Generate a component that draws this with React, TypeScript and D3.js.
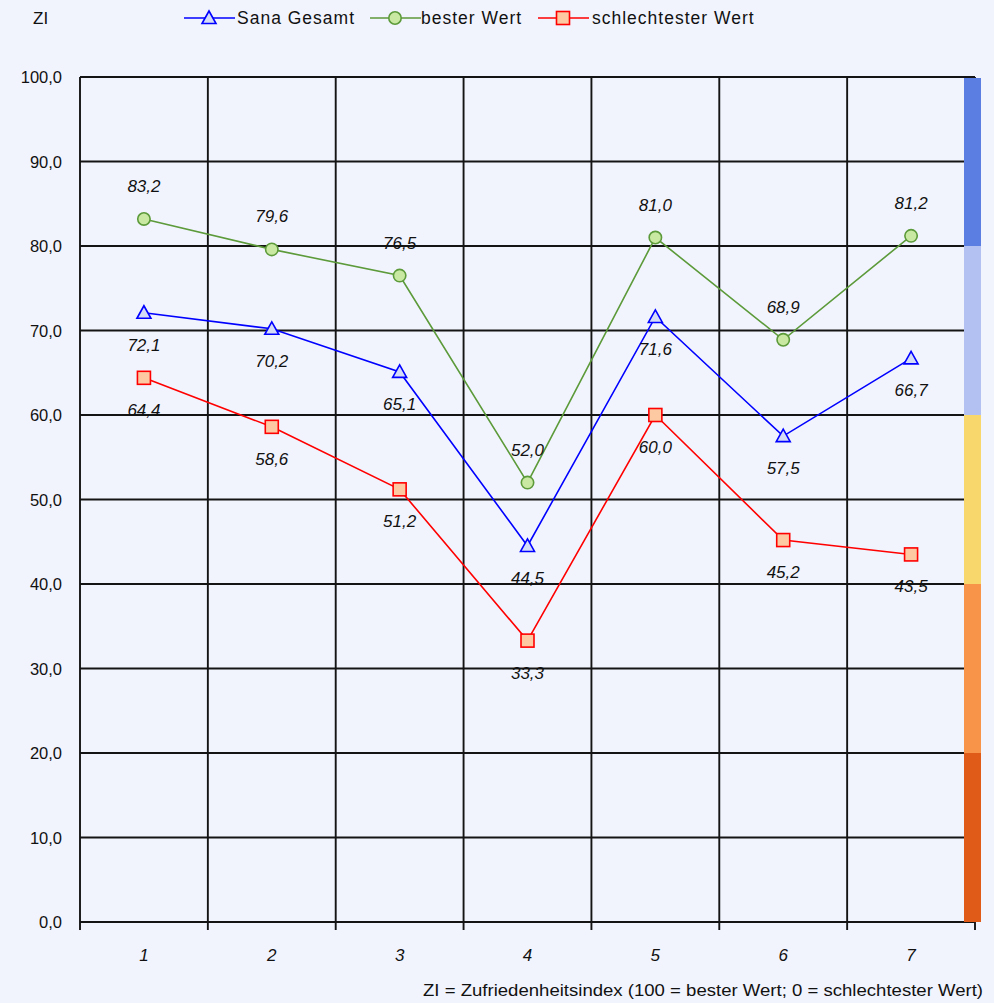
import React from "react";
import * as d3 from "d3";

const categories = ["1", "2", "3", "4", "5", "6", "7"];
const sanaGesamt = [72.1, 70.2, 65.1, 44.5, 71.6, 57.5, 66.7];
const besterWert = [83.2, 79.6, 76.5, 52.0, 81.0, 68.9, 81.2];
const schlechtesterWert = [64.4, 58.6, 51.2, 33.3, 60.0, 45.2, 43.5];
const yTicks = [0, 10, 20, 30, 40, 50, 60, 70, 80, 90, 100];
const bandLimits = [0, 20, 40, 60, 80, 100];
const bandColors = ["#e05a18", "#f8944a", "#f8d86c", "#b3c1f2", "#5b7ee2"];

const W = 994;
const H = 1003;
const L = 80;
const R = 975;
const T = 77;
const B = 922;
const BG = "#f1f4fd";
const FONT = "'Liberation Sans', Arial, sans-serif";

const fmt = (v: number) => d3.format(".1f")(v).replace(".", ",");

const x = d3.scaleBand<string>().domain(categories).range([L, R]).padding(0);
const y = d3.scaleLinear().domain([0, 100]).range([B, T]);

type Series = {
  name: string;
  values: number[];
  color: string;
  fill: string;
  marker: "tri" | "circle" | "square";
  labelDy: number;
};

const series: Series[] = [
  { name: "Sana  Gesamt", values: sanaGesamt, color: "#0000ff", fill: "#d4dcf6", marker: "tri", labelDy: 38 },
  { name: "bester Wert", values: besterWert, color: "#5c9a3a", fill: "#c9e9a2", marker: "circle", labelDy: -27 },
  { name: "schlechtester Wert", values: schlechtesterWert, color: "#ff0000", fill: "#fcc9a2", marker: "square", labelDy: 38 },
];

function Marker({ kind, cx, cy, color, fill }: { kind: string; cx: number; cy: number; color: string; fill: string }) {
  if (kind === "tri") {
    return (
      <path
        d={`M${cx},${cy - 7} L${cx + 7},${cy + 5.5} L${cx - 7},${cy + 5.5} Z`}
        fill={fill}
        stroke={color}
        strokeWidth={1.6}
      />
    );
  }
  if (kind === "circle") {
    return <circle cx={cx} cy={cy} r={6.2} fill={fill} stroke={color} strokeWidth={1.6} />;
  }
  return <rect x={cx - 6.5} y={cy - 6.5} width={13} height={13} fill={fill} stroke={color} strokeWidth={1.6} />;
}

export default function App() {
  const cx = (i: number) => (x(categories[i]) as number) + x.bandwidth() / 2;
  const line = d3
    .line<number>()
    .x((_, i) => cx(i))
    .y((d) => y(d));
  const edges = d3.range(categories.length + 1).map((i) => L + i * x.step());

  const legendItems = [
    { s: series[0], lx: 184, tx: 237 },
    { s: series[1], lx: 370, tx: 421 },
    { s: series[2], lx: 538, tx: 592 },
  ];

  return (
    <svg
      width={W}
      height={H}
      style={{ position: "fixed", left: 0, top: 0, display: "block", background: BG }}
      fontFamily={FONT}
    >
      <rect x={0} y={0} width={W} height={H} fill={BG} />

      {/* grid */}
      {yTicks.map((t) => (
        <line key={"h" + t} x1={L} x2={R} y1={y(t)} y2={y(t)} stroke="#141414" strokeWidth={1.9} />
      ))}
      {edges.map((ex, i) => (
        <line key={"v" + i} x1={ex} x2={ex} y1={T} y2={B + 8} stroke="#141414" strokeWidth={1.9} />
      ))}

      {/* color scale bar */}
      {bandColors.map((c, i) => (
        <rect
          key={"b" + i}
          x={964}
          width={17}
          y={y(bandLimits[i + 1]) + (i === bandColors.length - 1 ? 1 : 0)}
          height={y(bandLimits[i]) - y(bandLimits[i + 1]) - (i === bandColors.length - 1 ? 1 : 0)}
          fill={c}
        />
      ))}

      {/* y tick labels */}
      {yTicks.map((t) => (
        <text key={"yl" + t} x={62} y={y(t) + 6} textAnchor="end" fontSize={16.5} fill="#111">
          {fmt(t)}
        </text>
      ))}

      {/* x tick labels */}
      {categories.map((c, i) => (
        <text key={"xl" + c} x={cx(i)} y={961} textAnchor="middle" fontSize={17} fontStyle="italic" fill="#111">
          {c}
        </text>
      ))}

      {/* series */}
      {series.map((s) => (
        <g key={s.name}>
          <path d={line(s.values) || ""} fill="none" stroke={s.color} strokeWidth={1.6} />
          {s.values.map((v, i) => (
            <Marker key={i} kind={s.marker} cx={cx(i)} cy={y(v)} color={s.color} fill={s.fill} />
          ))}
        </g>
      ))}
      {series.map((s) => (
        <g key={"lab" + s.name}>
          {s.values.map((v, i) => (
            <text
              key={i}
              x={cx(i)}
              y={y(v) + s.labelDy}
              textAnchor="middle"
              fontSize={17}
              fontStyle="italic"
              fill="#111"
            >
              {fmt(v)}
            </text>
          ))}
        </g>
      ))}

      {/* title ZI */}
      <text x={33} y={24} fontSize={17} fill="#111">
        ZI
      </text>

      {/* legend */}
      {legendItems.map(({ s, lx, tx }) => (
        <g key={"lg" + s.name}>
          <line x1={lx} x2={lx + 51} y1={18} y2={18} stroke={s.color} strokeWidth={1.6} />
          <Marker kind={s.marker} cx={lx + 25} cy={18} color={s.color} fill={s.fill} />
          <text x={tx} y={24} fontSize={17.5} letterSpacing={1} fill="#111">
            {s.name}
          </text>
        </g>
      ))}

      {/* caption */}
      <text x={423} y={996} fontSize={16.5} fill="#111" textLength={560} lengthAdjust="spacingAndGlyphs">
        ZI = Zufriedenheitsindex (100 = bester Wert; 0 = schlechtester Wert)
      </text>
    </svg>
  );
}
